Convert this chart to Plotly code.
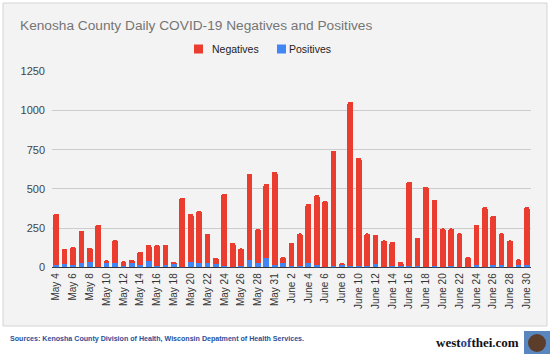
import plotly.graph_objects as go

dates = ["May 4", "May 5", "May 6", "May 7", "May 8", "May 9", "May 10", "May 11", "May 12", "May 13",
         "May 14", "May 15", "May 16", "May 17", "May 18", "May 19", "May 20", "May 21", "May 22", "May 23",
         "May 24", "May 25", "May 26", "May 27", "May 28", "May 29", "May 31",
         "June 1", "June 2", "June 3", "June 4", "June 5", "June 6", "June 7", "June 8", "June 9", "June 10",
         "June 11", "June 12", "June 13", "June 14", "June 15", "June 16", "June 17", "June 18", "June 19",
         "June 20", "June 21", "June 22", "June 23", "June 24", "June 25", "June 26", "June 27", "June 28",
         "June 29", "June 30"]

negatives = [328, 97, 116, 206, 93, 269, 15, 146, 28, 19,
             88, 106, 138, 127, 13, 439, 305, 335, 184, 42,
             460, 153, 115, 551, 214, 475, 596,
             41, 147, 206, 375, 448, 420, 732, 10, 1048, 687,
             206, 187, 168, 151, 26, 539, 181, 511, 424,
             244, 240, 212, 64, 259, 380, 316, 204, 168,
             36, 372]

positives = [12, 21, 15, 25, 32, 2, 30, 30, 10, 30,
             12, 38, 6, 17, 21, 4, 36, 25, 28, 19,
             10, 4, 6, 47, 30, 57, 12,
             25, 10, 10, 30, 12, 2, 10, 15, 8, 10,
             10, 19, 4, 10, 8, 8, 8, 4, 8,
             4, 8, 4, 2, 12, 4, 12, 12, 4,
             15, 12]

tick_labels = dates[::2]
y_ticks = [0, 250, 500, 750, 1000, 1250]

W, H = 550, 354
def px(x):
    return x / W
def py(y):
    return 1 - y / H

RED = "#EA3D30"
BLUE = "#4285F4"
FONT = "Arial, Liberation Sans, sans-serif"

fig = go.Figure()
fig.add_trace(go.Bar(x=dates, y=positives, name="Positives", marker_color=BLUE,
                     marker_line_width=0, showlegend=False))
fig.add_trace(go.Bar(x=dates, y=negatives, name="Negatives", marker_color=RED,
                     marker_line_width=0, showlegend=False))

fig.update_layout(
    width=W, height=H,
    margin=dict(l=0, r=0, t=0, b=0),
    paper_bgcolor="white",
    plot_bgcolor="rgba(0,0,0,0)",
    barmode="stack",
    bargap=0.32,
    barcornerradius=2,
    showlegend=False,
    font=dict(family=FONT),
    title=dict(text="Kenosha County Daily COVID-19 Negatives and Positives",
               x=px(20), xanchor="left", y=py(25), yanchor="middle",
               font=dict(size=13.7, color="#757575", family=FONT)),
    xaxis=dict(domain=[px(52), px(531)], type="category", automargin=False,
               tickmode="array", tickvals=tick_labels, ticktext=tick_labels,
               tickangle=-90, tickfont=dict(size=10, color="#333333"),
               showgrid=False, showline=False, ticks="", ticklabelstandoff=3),
    yaxis=dict(domain=[py(267.3), py(71)], range=[0, 1252], automargin=False,
               tickmode="array", tickvals=y_ticks,
               tickfont=dict(size=11, color="#444444"),
               showgrid=True, gridcolor="#cccccc", gridwidth=1,
               zeroline=True, zerolinecolor="#333333", zerolinewidth=1,
               showline=False, ticks="", ticklabelstandoff=6),
)

# chart panel
fig.add_shape(type="rect", xref="paper", yref="paper",
              x0=px(3), x1=px(547), y0=py(326), y1=py(3),
              fillcolor="#f3f3f3", line=dict(color="#d4d4d4", width=1), layer="below")

# legend (manual)
legend_items = [("Negatives", RED, 194, 212), ("Positives", BLUE, 277, 289)]
for name, color, sx, tx in legend_items:
    fig.add_shape(type="rect", xref="paper", yref="paper",
                  x0=px(sx), x1=px(sx + 9), y0=py(53.5), y1=py(44.5),
                  fillcolor=color, line=dict(width=0))
    fig.add_annotation(xref="paper", yref="paper", x=px(tx - 2), y=py(49), xanchor="left", yanchor="middle",
                       text=name, showarrow=False, font=dict(size=10.5, color="#222222", family=FONT))

# footer
fig.add_annotation(xref="paper", yref="paper", x=px(8), y=py(339), xanchor="left", yanchor="middle",
                   text="<b>Sources: Kenosha County Division of Health, Wisconsin Depatment of Health Services.</b>",
                   showarrow=False, font=dict(size=7.1, color="#2a4f9a", family=FONT))
fig.add_annotation(xref="paper", yref="paper", x=px(521), y=py(342), xanchor="right", yanchor="middle",
                   text="<b>west<span style='color:#1f3f8f'>of</span>thei<span style='color:#1f3f8f'>.</span>com</b>",
                   showarrow=False, font=dict(size=13, color="#111111", family="Liberation Serif, serif"))
fig.add_shape(type="rect", xref="paper", yref="paper",
              x0=px(524), x1=px(550), y0=py(354), y1=py(331),
              fillcolor="#5a86bf", line=dict(width=0))
fig.add_shape(type="circle", xref="paper", yref="paper",
              x0=px(528), x1=px(546), y0=py(352), y1=py(334),
              fillcolor="#5b3d2a", line=dict(width=0))

fig.write_html("out.html")
